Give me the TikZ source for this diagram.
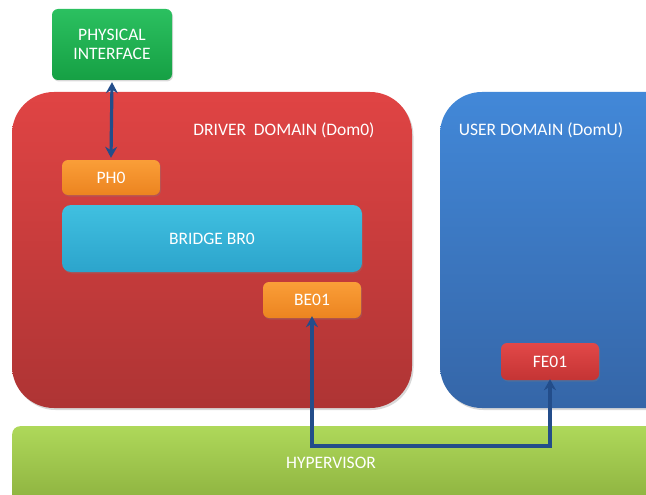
\documentclass[tikz,border=0pt]{standalone}
\usepackage{fontspec}
\setmainfont{Carlito}
\usetikzlibrary{arrows.meta,shadows}
\definecolor{piTop}{HTML}{2BC060}
\definecolor{piBot}{HTML}{16A044}
\definecolor{ddTop}{HTML}{E04444}
\definecolor{ddBot}{HTML}{AE3434}
\definecolor{udTop}{HTML}{4288D8}
\definecolor{udBot}{HTML}{3566A8}
\definecolor{orTop}{HTML}{FA9E38}
\definecolor{orBot}{HTML}{EC8420}
\definecolor{brTop}{HTML}{40C0E0}
\definecolor{brBot}{HTML}{2CA4CC}
\definecolor{feTop}{HTML}{E24848}
\definecolor{feBot}{HTML}{C43434}
\definecolor{hvTop}{HTML}{AED85A}
\definecolor{hvBot}{HTML}{8CB03E}
\definecolor{link}{HTML}{234D8A}
\tikzset{
  box/.style={rounded corners=6pt, text=white, align=center, font=\fontsize{17.5}{19.5}\selectfont,
    drop shadow={shadow xshift=1pt, shadow yshift=-1.5pt, opacity=0.3}},
  domainbox/.style={rounded corners=42pt, drop shadow={shadow xshift=1.5pt, shadow yshift=-2pt, opacity=0.3}},
  lbl/.style={text=white, font=\fontsize{17.5}{22}\selectfont},
  linkarrow/.style={draw=link, line width=3.2pt, {Stealth[length=11pt,width=12pt]}-{Stealth[length=11pt,width=12pt]}},
}
\begin{document}
\begin{tikzpicture}[x=1pt,y=-1pt]
\useasboundingbox (0,0) rectangle (646,495);
\clip (0,0) rectangle (646,495);
% domains
\path[domainbox, top color=ddTop, bottom color=ddBot] (12,92) rectangle (412,408);
\node[lbl] (ddl) at (284,130) {DRIVER\ \ DOMAIN (Dom0)};
\path[domainbox, top color=udTop, bottom color=udBot] (440,92) rectangle (700,408);
\node[lbl] (udl) at (541,130) {USER DOMAIN (DomU)};
% hypervisor bar
\node[box, rounded corners=8pt, top color=hvTop, bottom color=hvBot, minimum width=700pt, minimum height=80pt, anchor=north west, inner sep=0pt] (hv) at (12,426) {};
\node[lbl] (hvl) at (331,463) {HYPERVISOR};
% physical interface
\node[box, top color=piTop, bottom color=piBot, minimum width=120pt, minimum height=71pt, inner sep=0pt] (pi) at (112,44.5) {PHYSICAL\\INTERFACE};
% inner boxes
\node[box, top color=orTop, bottom color=orBot, minimum width=98pt, minimum height=35pt, inner sep=0pt] (ph0) at (111,177.5) {PH0};
\node[box, rounded corners=9pt, top color=brTop, bottom color=brBot, minimum width=300pt, minimum height=67pt, inner sep=0pt] (br) at (212,238.5) {BRIDGE BR0};
\node[box, top color=orTop, bottom color=orBot, minimum width=98pt, minimum height=36pt, inner sep=0pt] (be) at (312,300) {BE01};
\node[box, top color=feTop, bottom color=feBot, minimum width=98pt, minimum height=37pt, inner sep=0pt] (fe) at (550,361.5) {FE01};
% connectors
\coordinate (c1) at (312,446);
\coordinate (c2) at (550,446);
\draw[linkarrow] ([yshift=-2pt]pi.south) -- ([yshift=2pt]ph0.north);
\draw[linkarrow] ([yshift=2pt]be.south) -- (c1) -- (c2) -- ([yshift=1pt]fe.south);
\end{tikzpicture}
\end{document}
